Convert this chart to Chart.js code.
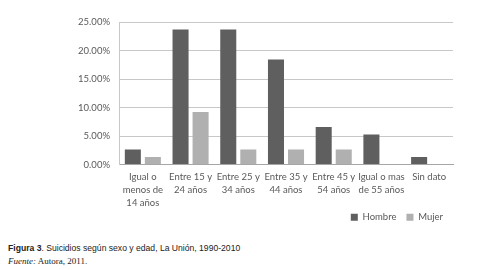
<!DOCTYPE html>
<html>
<head>
<meta charset="utf-8">
<script src="https://cdn.jsdelivr.net/npm/chart.js@4.4.1/dist/chart.umd.min.js"></script>
<style>
    body { margin: 0; background: #fff; width: 477px; height: 270px; position: relative; overflow: hidden; }
    #wrap { position: absolute; left: 0; top: 0; width: 477px; height: 234px; }
    .cap { position: absolute; left: 8px; font-size: 8.6px; color: #222; white-space: nowrap; }
    #cap1 { top: 243px; font-family: "Liberation Sans", Arial, sans-serif; }
    #cap2 { top: 256px; font-family: "Liberation Serif", "Times New Roman", serif; font-size: 9px; }
</style>
</head>
<body>
<div id="wrap"><canvas id="chart"></canvas></div>
<div class="cap" id="cap1"><b>Figura 3</b>. Suicidios según sexo y edad, La Unión, 1990-2010</div>
<div class="cap" id="cap2"><i>Fuente:</i> Autora, 2011.</div>
<script>
const categories = [
    ["Igual o", "menos de", "14 años"],
    ["Entre 15 y", "24 años"],
    ["Entre 25 y", "34 años"],
    ["Entre 35 y", "44 años"],
    ["Entre 45 y", "54 años"],
    ["Igual o mas", "de 55 años"],
    "Sin dato"
];
const hombre = [2.63, 23.68, 23.68, 18.42, 6.58, 5.26, 1.32];
const mujer = [1.32, 9.21, 2.63, 2.63, 2.63, 0, 0];
const yTicks = [0, 5, 10, 15, 20, 25];

const font = { family: "Lato, 'Liberation Sans', Arial, sans-serif", size: 9.5, lineHeight: 1.35 };

new Chart(document.getElementById("chart"), {
    type: "bar",
    data: {
        labels: categories,
        datasets: [
            { label: "Hombre", data: hombre, backgroundColor: "#5f5f5f", categoryPercentage: 0.84, barPercentage: 0.8 },
            { label: "Mujer", data: mujer, backgroundColor: "#b0b0b0", categoryPercentage: 0.84, barPercentage: 0.8 }
        ]
    },
    options: {
        responsive: true,
        maintainAspectRatio: false,
        animation: false,
        layout: { padding: { left: 0, right: 24, top: 22, bottom: 2 } },
        plugins: {
            legend: {
                position: "bottom",
                align: "end",
                labels: { boxWidth: 7, boxHeight: 7, padding: 10, color: "#595959", font: { family: font.family, size: 9.5 } }
            },
            tooltip: { enabled: false }
        },
        scales: {
            x: {
                grid: { display: false, drawTicks: false },
                border: { color: "#a6a6a6" },
                // keep the plot bottom fixed, let the 3-line label hang below the axis box
                afterFit: s => { s.height = 38; s._computeLabelArea = () => undefined; },
                ticks: { color: "#595959", font: font, maxRotation: 0, autoSkip: false, padding: 6 }
            },
            y: {
                min: 0,
                max: 25,
                afterBuildTicks: s => { s.ticks = yTicks.map(v => ({ value: v })); },
                afterFit: s => { s.width = 119; },
                grid: { color: "#c8c8c8", drawTicks: false },
                border: { color: "#c8c8c8" },
                ticks: { color: "#595959", font: font, padding: 9, callback: v => v.toFixed(2) + "%" }
            }
        }
    }
});
</script>
</body>
</html>
